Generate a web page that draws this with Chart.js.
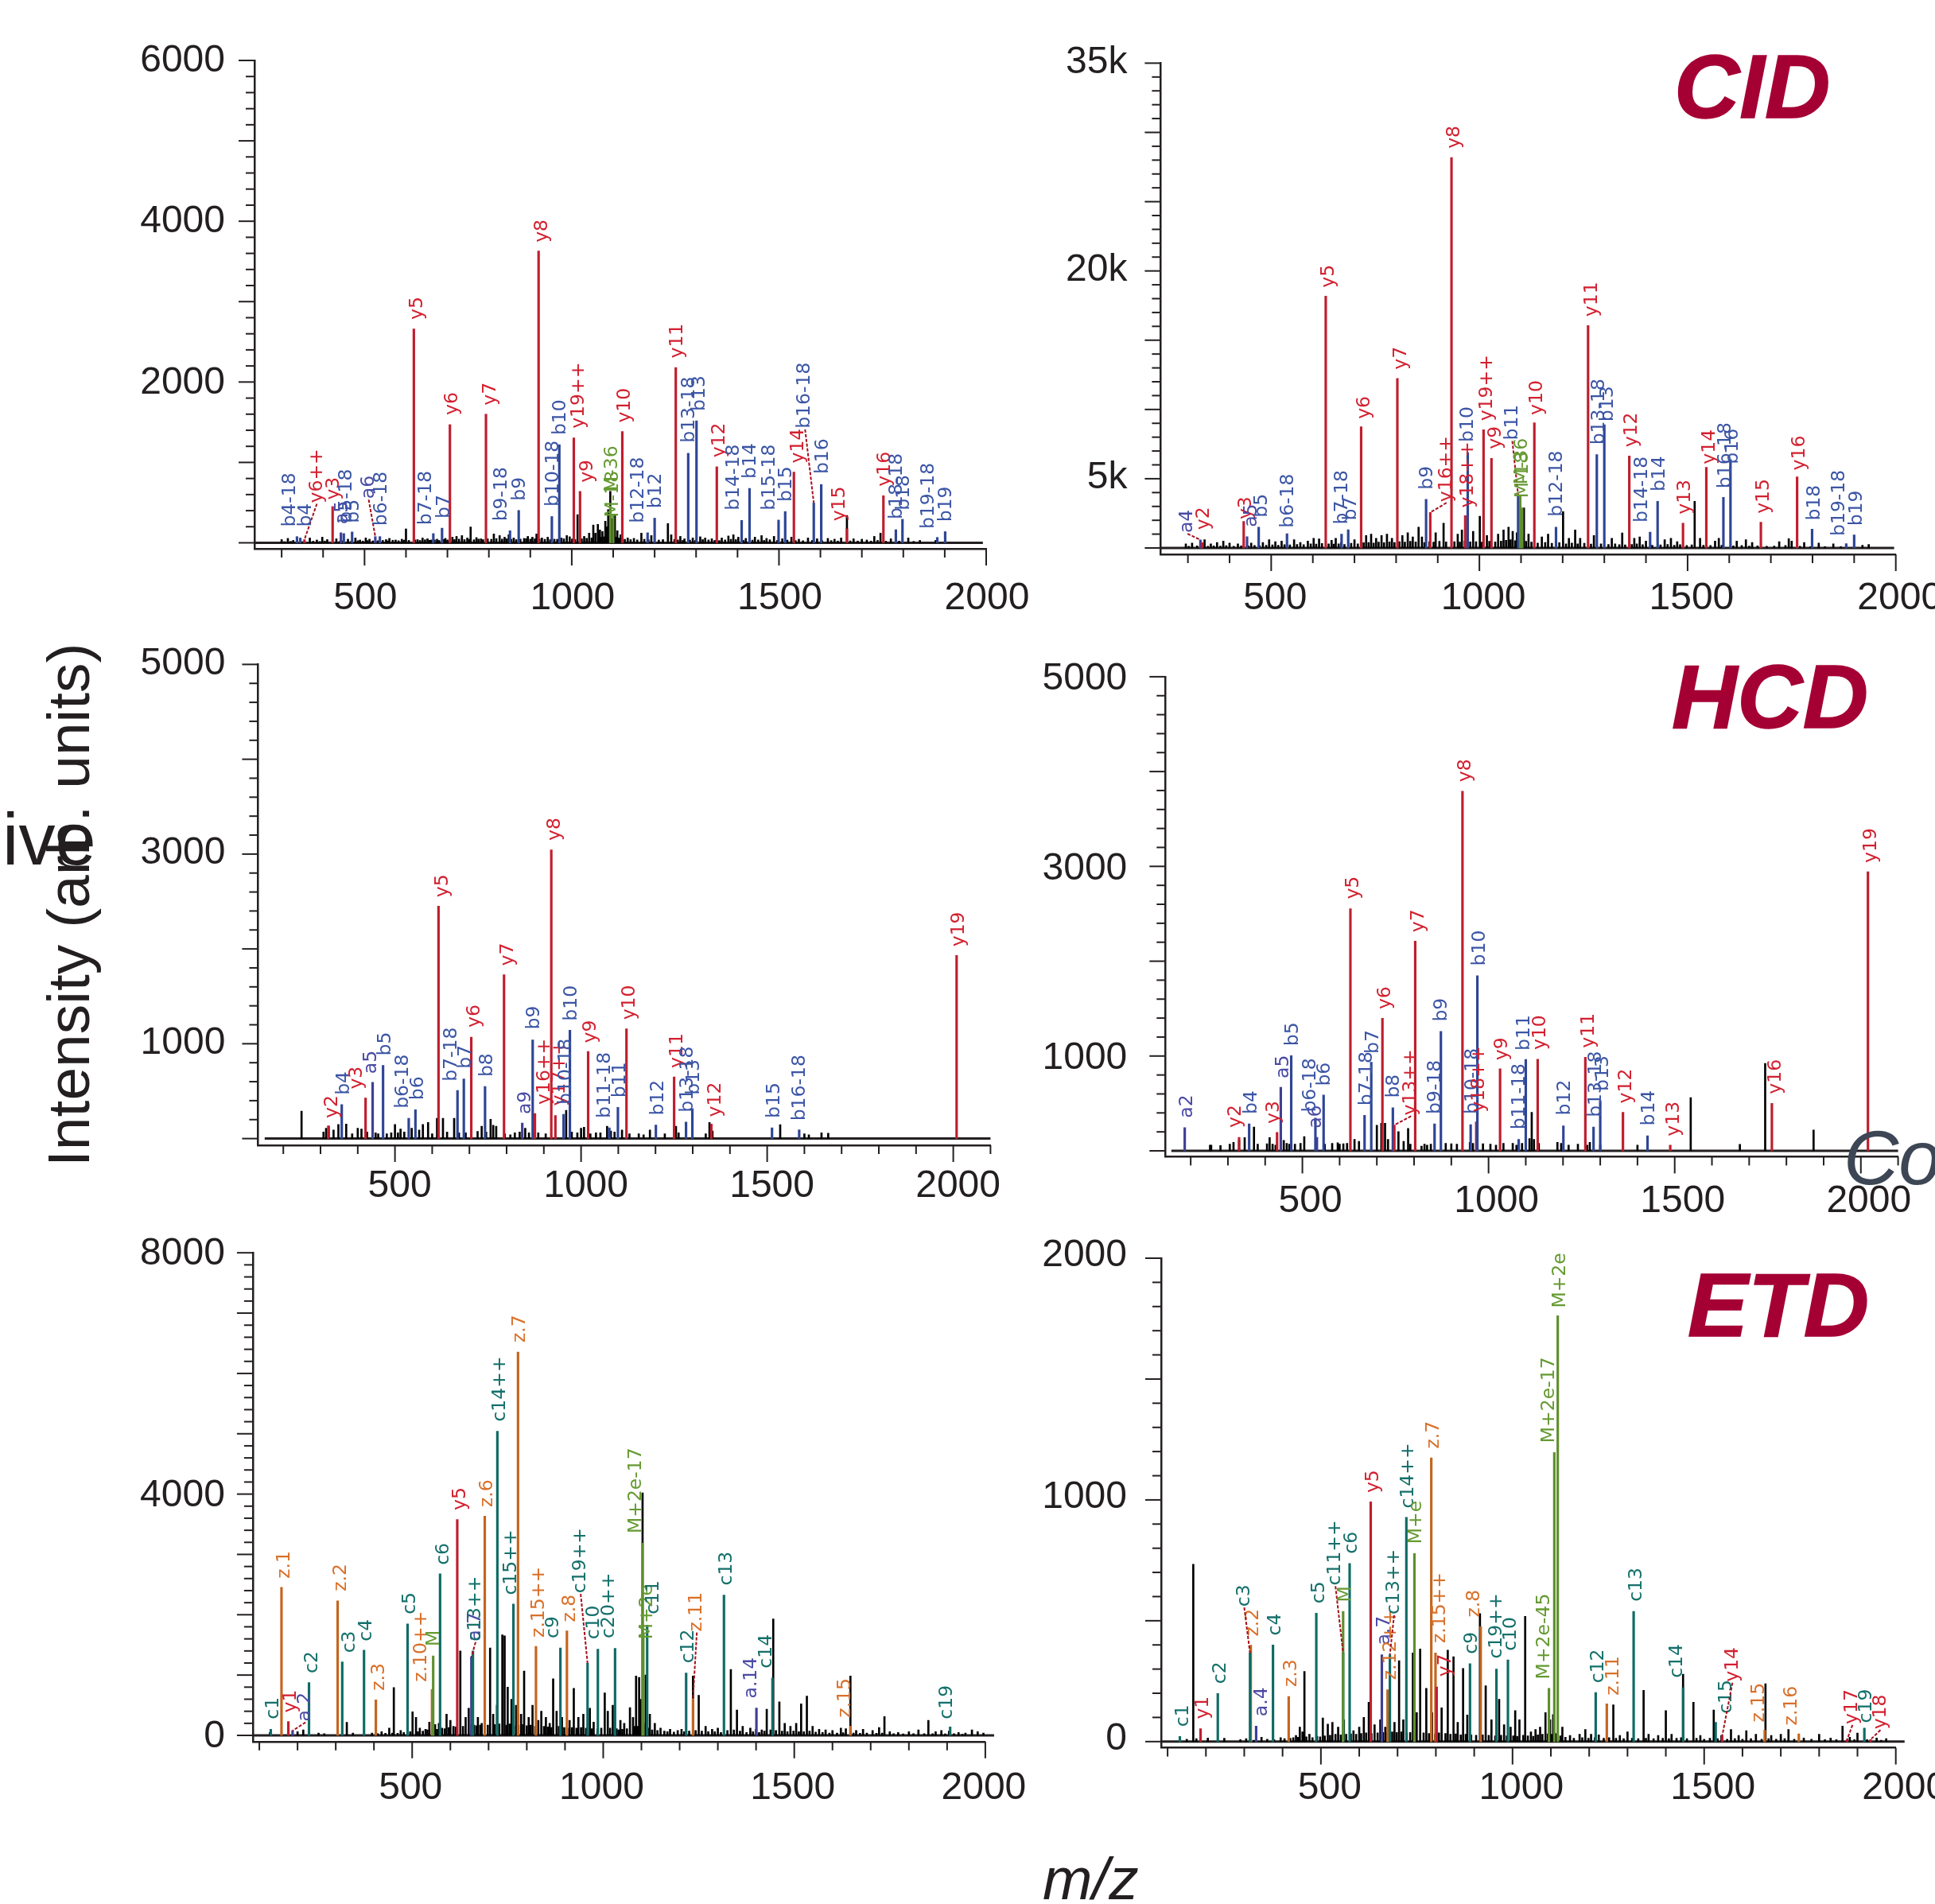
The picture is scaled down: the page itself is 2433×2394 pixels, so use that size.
<!DOCTYPE html>
<html>
<head>
<meta charset="utf-8">
<script src="https://cdn.jsdelivr.net/npm/chart.js@4"></script>
<style>
      html, body { margin: 0; padding: 0; background: #ffffff; }
      body { position: relative; width: 2433px; height: 2394px; overflow: hidden; }
      canvas { position: absolute; }
      .note { position: absolute; white-space: nowrap; line-height: 1; font-family: "Liberation Sans", sans-serif; color: #231f20; }
      .method { font-size: 114px; font-weight: bold; font-style: italic; color: #a50034; -webkit-text-stroke: 1.5px #a50034; }
</style>
</head>
<body>
<div class="note" style="left: 3px; top: 1009px; font-size: 92px;">ive</div>
<div class="note" style="left: 49px; top: 1467px; font-size: 75px; transform-origin: 0 0; transform: rotate(-90deg);">Intensity (arb. units)</div>
<div class="note" style="left: 1311px; top: 2325px; font-size: 75px; font-style: italic;">m/z</div>
<div class="note method" style="left: 2105px; top: 52px;">CID</div>
<div class="note method" style="left: 2102px; top: 819px;">HCD</div>
<div class="note method" style="left: 2122px; top: 1584px;">ETD</div>
<div id="charts"></div>
<div class="note" style="left: 2318px; top: 1408px; font-size: 96px; font-style: italic; color: #3d4654;">Co</div>
<script>
// m/z grid shared by every panel
const xHundreds = [100, 200, 300, 400, 500, 600, 700, 800, 900, 1000, 1100, 1200, 1300, 1400, 1500, 1600, 1700, 1800, 1900, 2000, 2100];
const xLabelled = [500, 1000, 1500, 2000];

// CID, left
const cid1YLabelValues = [2000, 4000, 6000];
const cid1YLabels = ['2000', '4000', '6000'];
const cid1Ions = ['y3','y5','y6','y6++','y7','y8','y9','y10','y11','y12','y14','y15','y16','y19++','b4-18','b4','a5','b5-18','b5','a6','b6-18','b7-18','b7','b9-18','b9','b10-18','b10','M-36','M-18','b12-18','b12','b13-18','b13','b14-18','b14','b15-18','b15','b16-18','b16','b18-18','b18','b19-18','b19'];
const cid1Mz = [423,619,706,355,793,920,1020,1122,1251,1350,1536,1664,1752,1005,337,345,443,450,470,526,537,666,687,851,872,952,970,1093,1100,1183,1200,1281,1301,1410,1429,1499,1515,1584,1602,1782,1798,1882,1901];
const cid1Int = [451,2660,1470,40,1600,3630,640,1383,2180,946,880,173,586,1306,77,60,125,115,135,77,77,115,182,150,403,327,1220,460,350,125,307,1114,1517,279,677,283,389,495,725,163,293,67,139];
const cid1LabelSpots = [[427,533],[627,2776],[713,1589],[385,495],[804,1710],[929,3736],[1039,749],[1129,1493],[1256,2295],[1356,1061],[1547,989],[1646,269],[1757,701],[1017,1421],[320,197],[359,197],[447,230],[457,245],[475,245],[510,547],[541,211],[648,221],[692,302],[832,269],[876,523],[956,451],[973,1340],[1097,629],[1099,317],[1162,245],[1204,427],[1284,1244],[1308,1638],[1391,403],[1432,797],[1478,403],[1519,509],[1563,1421],[1606,855],[1785,293],[1803,403],[1861,173],[1904,259]];
const cid1Other = [[300,40],[315,55],[328,30],[368,60],[385,35],[398,70],[410,40],[432,50],[460,45],[478,60],[489,35],[503,60],[512,45],[552,40],[560,55],[575,35],[590,45],[600,173],[628,40],[640,60],[652,50],[661,35],[675,45],[695,55],[712,70],[722,80],[735,90],[748,60],[756,197],[770,65],[781,50],[812,110],[826,90],[838,70],[848,100],[860,60],[885,55],[894,80],[905,70],[915,110],[928,60],[942,70],[958,45],[975,60],[988,90],[995,75],[1014,350],[1030,80],[1042,120],[1052,221],[1057,120],[1063,230],[1068,160],[1074,140],[1081,269],[1085,200],[1088,413],[1093,640],[1096,300],[1104,350],[1110,150],[1118,100],[1135,60],[1150,55],[1168,120],[1192,90],[1232,240],[1240,100],[1262,80],[1272,50],[1292,60],[1310,75],[1322,60],[1338,50],[1362,60],[1378,85],[1390,100],[1402,70],[1420,55],[1442,70],[1458,90],[1470,55],[1488,80],[1508,50],[1530,70],[1548,45],[1570,60],[1592,50],[1618,55],[1634,45],[1650,60],[1664,340],[1680,50],[1700,45],[1712,35],[1730,80],[1745,120],[1770,50],[1812,60],[1840,30],[1878,30]];
const cid1Fine = [[307,15],[322,18],[350,15],[376,20],[392,16],[404,22],[440,18],[448,24],[468,20],[484,26],[496,22],[507,28],[520,24],[532,26],[544,30],[556,24],[568,32],[582,26],[595,34],[607,30],[622,36],[634,30],[646,38],[657,32],[669,36],[680,30],[691,42],[700,36],[717,40],[728,46],[741,40],[753,44],[764,38],[775,46],[786,40],[797,50],[806,44],[818,52],[832,46],[843,50],[854,44],[866,40],[876,46],[890,52],[900,46],[911,50],[922,48],[935,44],[948,40],[965,44],[981,50],[1001,48],[1008,42],[1024,50],[1036,56],[1048,60],[1071,70],[1078,75],[1101,80],[1107,70],[1114,60],[1128,44],[1142,40],[1158,36],[1175,44],[1185,38],[1210,34],[1220,40],[1248,42],[1256,36],[1268,30],[1285,34],[1298,30],[1316,40],[1330,36],[1345,30],[1356,28],[1370,36],[1384,44],[1396,40],[1414,30],[1436,34],[1450,36],[1464,30],[1478,38],[1496,30],[1520,34],[1540,28],[1558,26],[1580,30],[1604,26],[1626,28],[1642,22],[1672,24],[1690,22],[1722,22],[1738,30],[1758,20],[1790,22],[1825,18]];

// CID, right
const cid2YLabelValues = [5000, 20000, 35000];
const cid2YLabels = ['5k', '20k', '35k'];
const cid2Ions = ['a4','y2','y3','a5','b5','b6-18','y5','b7-18','b7','y6','y7','b9','y16++','y8','y18++','b10','y19++','y9','b11','M-36','M-18','y10','b12-18','y11','b13-18','b13','y12','b14-18','b14','y13','y14','b16-18','b16','y15','y16','b18','b19-18','b19'];
const cid2Mz = [330,334,434,442,470,538,631,669,685,716,803,872,882,933,966,972,1010,1029,1093,1098,1103,1132,1184,1261,1282,1300,1360,1410,1428,1489,1545,1586,1603,1676,1763,1799,1881,1900];
const cid2Int = [585,390,1924,808,1505,1031,18178,1004,1310,8754,12240,3513,2565,28187,2342,6886,8531,6468,3820,3820,2900,9033,1505,16059,6747,8894,6635,1143,3373,1784,5827,3652,6384,1868,5130,1366,307,948];
const cid2LabelSpots = [[299,1087],[338,1310],[440,2063],[454,1505],[478,2200],[542,1450],[639,18790],[671,1700],[692,1980],[725,9310],[812,12880],[875,4210],[921,3318],[941,28830],[973,2900],[973,7640],[1018,9170],[1039,7137],[1079,7779],[1103,4572],[1105,3596],[1139,9590],[1187,2258],[1271,16700],[1287,7444],[1308,9117],[1367,7277],[1392,1840],[1434,4070],[1494,2425],[1553,6050],[1591,4293],[1608,6050],[1683,2481],[1770,5604],[1805,1980],[1865,864],[1907,1589]];
const cid2Other = [[295,300],[310,350],[340,600],[355,300],[370,400],[385,500],[400,350],[420,300],[452,350],[480,400],[495,600],[510,450],[525,500],[555,600],[570,400],[588,500],[602,700],[615,650],[645,550],[655,700],[668,400],[700,600],[728,900],[740,1000],[752,700],[765,900],[778,1000],[790,700],[815,900],[828,1100],[840,800],[854,1505],[862,800],[895,1100],[914,1784],[948,1000],[958,1300],[985,1200],[1001,2286],[1018,900],[1045,1000],[1058,1300],[1070,1500],[1080,1200],[1090,1100],[1107,2900],[1118,1000],[1150,800],[1165,1000],[1201,2620],[1215,700],[1230,1300],[1242,700],[1275,900],[1318,700],[1343,1087],[1372,700],[1385,800],[1400,500],[1445,600],[1460,700],[1475,450],[1517,3373],[1530,700],[1566,500],[1575,700],[1618,500],[1640,600],[1655,400],[1720,450],[1743,669],[1750,500],[1780,400],[1815,350],[1850,300],[1920,200],[1935,250]];
const cid2Fine = [[302,120],[322,150],[348,130],[362,160],[378,140],[392,170],[410,130],[428,160],[445,150],[460,180],[472,170],[488,200],[503,220],[517,200],[532,240],[545,220],[562,260],[578,240],[595,300],[608,280],[622,320],[638,300],[650,280],[662,300],[676,260],[692,340],[708,300],[722,380],[734,400],[746,360],[758,420],[771,380],[784,440],[796,400],[808,460],[821,420],[834,480],[847,440],[868,400],[880,460],[890,420],[904,480],[920,440],[940,460],[953,420],[965,500],[978,440],[992,460],[1006,420],[1024,480],[1038,440],[1052,500],[1064,560],[1075,600],[1086,520],[1112,480],[1125,420],[1140,360],[1158,400],[1174,340],[1192,380],[1208,300],[1222,360],[1236,300],[1252,340],[1268,280],[1292,300],[1310,260],[1326,300],[1336,240],[1350,220],[1366,260],[1378,300],[1392,240],[1415,200],[1435,220],[1452,260],[1468,200],[1482,240],[1498,180],[1510,220],[1538,200],[1555,180],[1582,200],[1610,160],[1630,180],[1648,140],[1668,160],[1690,120],[1708,140],[1735,180],[1770,120],[1795,100],[1830,100],[1868,90]];

// HCD, left
const hcd1YLabelValues = [1000, 3000, 5000];
const hcd1YLabels = ['1000', '3000', '5000'];
const hcd1Ions = ['y2','b4','y3','a5','b5','b6-18','b6','y5','b7-18','b7','y6','b8','y7','a9','b9','y16++','y8','y17++','b10-18','b10','y9','b11-18','b11','y10','b12','y11','b13-18','b13','y12','b15','b16-18','y19'];
const hcd1Mz = [321,357,421,440,468,537,555,617,668,685,705,742,793,842,870,876,920,931,953,970,1019,1076,1099,1122,1201,1250,1282,1299,1350,1513,1586,2009];
const hcd1Int = [134,358,427,593,772,215,305,2451,508,630,1069,549,1728,163,1041,264,3045,244,256,1142,919,114,329,1158,142,650,175,317,154,114,93,1931];
const hcd1LabelSpots = [[332,215],[363,459],[398,520],[437,683],[474,874],[522,317],[562,406],[629,2545],[652,602],[691,736],[714,1171],[748,650],[803,1821],[850,256],[874,1150],[902,358],[930,3142],[942,345],[960,358],[976,1240],[1026,1008],[1064,215],[1105,431],[1130,1252],[1207,244],[1259,744],[1287,276],[1304,459],[1361,228],[1519,215],[1589,187],[2015,2024]];
const hcd1Other = [[249,289],[308,70],[315,110],[322,130],[335,90],[348,150],[369,154],[385,50],[400,110],[410,100],[425,70],[448,60],[455,50],[478,50],[490,60],[500,150],[508,60],[515,100],[525,70],[545,110],[565,90],[575,150],[589,170],[600,50],[613,215],[629,215],[640,70],[659,215],[672,60],[690,60],[722,75],[733,130],[745,70],[757,203],[764,140],[772,130],[795,50],[810,40],[822,60],[835,70],[850,110],[860,60],[885,60],[905,50],[960,297],[975,70],[990,60],[1000,110],[1008,120],[1025,50],[1040,60],[1052,60],[1070,130],[1080,80],[1090,70],[1110,90],[1130,50],[1155,50],[1168,40],[1185,90],[1225,50],[1255,130],[1262,60],[1335,50],[1345,170],[1353,80],[1535,146],[1600,50],[1612,40],[1646,61],[1664,57]];
const hcd1Fine = [];

// HCD, right
const hcd2YLabelValues = [1000, 3000, 5000];
const hcd2YLabels = ['1000', '3000', '5000'];
const hcd2Ions = ['a2','y2','b4','y3','a5','b5','a6','b6-18','b6','y5','b7-18','b7','y6','b8','y13++','y7','b9-18','b9','y8','b10-18','y18++','b10','y9','b11-18','b11','y10','b12','y11','b13-18','b13','y12','b14','y13','y16','y19'];
const hcd2Mz = [184,330,357,432,442,470,539,535,557,629,667,685,715,743,747,803,855,872,930,952,967,970,1031,1081,1100,1132,1201,1260,1282,1300,1361,1427,1488,1761,2019];
const hcd2Int = [244,142,285,195,671,1004,142,346,589,2553,374,935,1398,455,272,2211,285,1260,3793,276,305,1846,866,122,963,967,264,988,252,528,406,159,61,500,2943];
const hcd2LabelSpots = [[192,346],[322,244],[363,386],[423,285],[450,764],[475,1106],[538,236],[522,406],[561,683],[638,2654],[673,476],[690,1024],[723,1492],[747,557],[792,374],[813,2305],[857,386],[874,1362],[939,3890],[957,386],[974,406],[976,1951],[1037,955],[1084,224],[1097,1057],[1139,1065],[1205,374],[1269,1085],[1289,354],[1308,630],[1370,500],[1432,264],[1499,154],[1771,598],[2029,3037]];
const hcd2Other = [[252,60],[255,60],[280,55],[305,70],[315,90],[330,110],[345,140],[370,252],[380,70],[405,75],[412,140],[420,70],[428,60],[450,110],[458,80],[465,70],[480,70],[495,80],[505,150],[560,70],[580,80],[595,85],[600,70],[610,75],[620,80],[640,120],[652,100],[700,270],[712,290],[722,290],[730,120],[758,203],[772,100],[784,236],[790,70],[820,50],[828,70],[835,60],[845,70],[885,80],[900,75],[915,70],[950,90],[958,80],[985,75],[1005,70],[1020,60],[1040,80],[1065,80],[1075,60],[1090,80],[1100,100],[1110,130],[1116,406],[1122,120],[1135,80],[1185,90],[1195,80],[1215,60],[1240,70],[1265,60],[1272,90],[1300,60],[1400,60],[1543,561],[1675,69],[1743,923],[1873,220]];
const hcd2Fine = [];

// ETD, left
const etd1YLabelValues = [0, 4000, 8000];
const etd1YLabels = ['0', '4000', '8000'];
const etd1Ions = ['c1','z.1','y1','a.2','c2','z.2','c3','c4','z.3','c5','z.10++','M','c6','y5','a.7','c13++','z.6','c14++','c15++','z.7','z.15++','c9','z.8','c19++','c10','c20++','M+2e-17','M+2e','c11','c12','z.11','c13','a.14','c14','z.15','c19'];
const etd1Mz = [130,158,176,187,230,305,317,374,405,488,552,555,573,618,655,659,690,723,765,777,824,888,905,959,986,1031,1103,1105,1115,1217,1235,1316,1401,1443,1647,1908];
const etd1Int = [102,2454,230,77,875,2230,1220,1412,588,1847,760,1316,2677,3578,1300,1400,3636,5042,2179,6352,1476,1450,1732,1195,1431,1444,3189,1700,1828,1035,613,2326,454,952,153,140];
const etd1LabelSpots = [[138,268],[166,2600],[182,377],[221,230],[239,1029],[314,2390],[337,1367],[380,1559],[413,741],[496,2006],[524,888],[558,1476],[582,2824],[627,3732],[666,1559],[666,1559],[698,3783],[730,5200],[760,2326],[783,6512],[833,1623],[870,1610],[914,1879],[941,2358],[975,1591],[1016,1610],[1086,3348],[1116,1591],[1131,2006],[1223,1195],[1245,1719],[1323,2485],[1388,613],[1428,1112],[1634,294],[1901,268]];
const etd1Other = [[128,50],[200,60],[215,90],[255,40],[270,30],[329,217],[345,40],[395,40],[420,60],[440,120],[452,792],[470,80],[488,100],[501,390],[510,300],[520,120],[535,100],[545,220],[560,180],[570,200],[590,350],[600,250],[626,1400],[640,300],[648,450],[672,300],[682,200],[704,1450],[712,350],[722,500],[736,1668],[742,1650],[750,800],[760,600],[772,500],[785,350],[793,1067],[805,300],[815,500],[830,250],[838,400],[850,300],[860,200],[869,939],[878,400],[892,300],[912,250],[923,780],[935,300],[948,350],[965,450],[975,220],[1004,703],[1012,400],[1025,500],[1045,250],[1055,200],[1070,460],[1078,300],[1086,984],[1094,960],[1098,600],[1103,4020],[1111,1000],[1122,350],[1135,200],[1150,120],[1175,100],[1195,80],[1205,100],[1235,984],[1250,665],[1268,150],[1285,100],[1300,120],[1334,1093],[1350,422],[1365,150],[1385,120],[1400,100],[1415,90],[1428,434],[1445,1930],[1461,556],[1475,200],[1490,150],[1505,200],[1518,524],[1533,652],[1548,150],[1565,100],[1582,90],[1600,80],[1622,120],[1635,110],[1647,984],[1662,80],[1680,100],[1705,80],[1722,130],[1736,313],[1750,60],[1772,50],[1800,60],[1825,90],[1851,249],[1870,60],[1885,80],[1905,70],[1930,50],[1948,40],[1965,90],[1980,60],[1995,40]];
const etd1Fine = [[410,30],[430,35],[448,40],[462,35],[478,50],[495,60],[515,60],[528,70],[540,90],[552,90],[565,100],[578,120],[585,110],[596,130],[608,150],[614,140],[633,150],[655,180],[662,170],[668,160],[678,170],[690,180],[698,170],[716,180],[728,190],[747,170],[755,190],[766,160],[778,170],[790,180],[800,160],[810,170],[822,150],[845,150],[855,140],[864,130],[884,150],[898,130],[906,120],[918,130],[930,120],[942,130],[955,120],[970,110],[985,110],[995,120],[1018,120],[1035,110],[1040,90],[1050,100],[1062,110],[1082,150],[1090,150],[1106,200],[1118,120],[1128,90],[1142,80],[1160,70],[1168,60],[1185,55],[1212,60],[1225,70],[1242,80],[1258,70],[1275,60],[1292,60],[1308,50],[1325,80],[1342,90],[1358,70],[1375,50],[1392,60],[1408,50],[1422,70],[1438,90],[1452,80],[1468,70],[1482,60],[1498,70],[1512,60],[1525,60],[1540,70],[1556,55],[1574,50],[1592,40],[1612,40],[1628,45],[1655,40],[1672,35],[1690,40],[1715,35],[1730,40],[1760,30],[1785,25],[1812,30],[1840,30],[1862,30],[1895,25],[1918,30],[1940,20]];

// ETD, right
const etd2YLabelValues = [0, 1000, 2000];
const etd2YLabels = ['0', '1000', '2000'];
const etd2Ions = ['c1','y1','c2','z.2','c3','a.4','c4','z.3','c5','c11++','M','c6','y5','a.7','z.12++','c13++','c14++','M+e','z.7','z.15++','y7','c9','z.8','c19++','c10','M+2e-45','M+2e-17','M+2e','c12','z.11','c13','c14','c15','y14','z.15','z.16','y17','c19','y18'];
const etd2Mz = [132,186,231,317,315,331,375,416,488,558,558,575,630,659,674,680,723,744,788,799,802,889,917,958,988,1095,1109,1118,1217,1246,1316,1445,1530,1547,1658,1747,1873,1918,1934];
const etd2Int = [21,53,199,399,367,64,400,187,531,367,539,737,992,359,215,359,928,778,1174,367,226,322,475,300,338,220,1196,1762,203,156,539,223,80,24,48,32,8,56,8];
const etd2LabelSpots = [[141,61],[193,93],[239,239],[323,435],[300,558],[346,104],[382,439],[424,226],[495,571],[538,646],[564,577],[581,777],[637,1029],[666,399],[682,255],[691,526],[729,965],[750,818],[794,1212],[811,407],[825,268],[895,362],[901,514],[958,343],[996,375],[1083,258],[1095,1236],[1124,1794],[1225,242],[1263,191],[1324,579],[1429,263],[1559,115],[1574,247],[1643,80],[1728,67],[1887,72],[1923,77],[1960,51]];
const etd2Other = [[150,10],[167,734],[175,12],[205,15],[248,14],[290,8],[305,12],[345,18],[395,16],[435,25],[445,60],[452,40],[457,290],[470,30],[505,98],[518,72],[530,80],[545,60],[560,90],[585,45],[600,60],[612,100],[625,163],[640,70],[655,90],[668,60],[680,120],[692,80],[704,335],[715,90],[740,367],[750,120],[759,383],[775,220],[790,120],[815,140],[831,378],[846,351],[857,80],[871,303],[882,110],[915,530],[930,231],[945,90],[965,175],[978,70],[995,60],[1007,128],[1018,90],[1033,518],[1048,40],[1060,50],[1072,60],[1086,120],[1098,90],[1106,112],[1130,60],[1150,25],[1175,30],[1190,50],[1205,30],[1225,28],[1263,152],[1280,25],[1300,40],[1342,212],[1355,30],[1380,25],[1400,128],[1415,30],[1445,279],[1472,163],[1490,25],[1525,131],[1545,25],[1570,50],[1590,25],[1610,45],[1635,30],[1660,239],[1675,25],[1700,30],[1720,50],[1760,15],[1800,30],[1830,15],[1861,64],[1880,18],[1900,35],[1950,15],[1975,12]];
const etd2Fine = [[315,8],[325,6],[360,10],[378,8],[405,12],[420,14],[428,16],[440,18],[462,20],[478,16],[490,22],[498,20],[510,24],[524,26],[538,30],[552,28],[566,30],[578,32],[592,30],[605,34],[618,36],[632,34],[648,36],[662,38],[672,36],[686,40],[698,38],[710,40],[724,36],[733,38],[745,34],[768,36],[782,34],[798,32],[808,36],[825,34],[838,30],[852,32],[865,28],[878,30],[892,28],[905,26],[922,28],[938,26],[955,24],[970,26],[985,24],[1002,24],[1012,22],[1028,26],[1040,24],[1054,22],[1066,28],[1078,30],[1092,32],[1102,30],[1112,34],[1125,24],[1138,18],[1160,14],[1182,16],[1198,14],[1215,16],[1238,14],[1252,16],[1270,14],[1290,12],[1312,14],[1328,12],[1348,14],[1368,12],[1392,14],[1408,12],[1428,14],[1440,16],[1455,12],[1480,14],[1500,10],[1515,14],[1535,12],[1560,10],[1580,12],[1600,10],[1622,12],[1650,10],[1668,12],[1688,10],[1710,12],[1735,10],[1780,10],[1815,8],[1845,8],[1892,8],[1925,8],[1962,6]];

const peakColours = { y: '#bf1e2e', b: '#2e4596', a: '#3f3f95', M: '#5f8f2d', c: '#0f6b66', z: '#c4651f' };
const textColours = { y: '#d2202f', b: '#3b55a5', a: '#4a4aa5', M: '#659a32', c: '#14706b', z: '#d9702a' };
const inkColour = '#231f20';
const leaderColour = '#a50f1c';

function ionKey(ion)
{
      return ion.charAt(0);
}

function noPadding(s)
{
      s.paddingLeft = 0;
      s.paddingRight = 0;
      s.paddingTop = 0;
      s.paddingBottom = 0;
}

function drawSpectrum(panel)
{
      const canvas = document.createElement('canvas');
      canvas.width = panel.box[2];
      canvas.height = panel.box[3];
      canvas.style.left = panel.box[0] + 'px';
      canvas.style.top = panel.box[1] + 'px';
      document.getElementById('charts').appendChild(canvas);

      const xTicks = xHundreds.filter(function (v) { return v >= panel.xMin && v <= panel.xMax; });
      const yTicks = [];
      for (let v = 0; v <= panel.yMax; v += panel.yStep)
      {
            yTicks.push(v);
      }
      // the x axis hangs a little under the zero line, so the y scale starts below zero
      const yMin = -panel.yMax * (panel.axisY - panel.zeroY) / (panel.zeroY - panel.topY);

      const frame = {
            id: 'frame',
            beforeDatasetsDraw: function (chart)
            {
                  const ctx = chart.ctx;
                  const xs = chart.scales.x;
                  const ys = chart.scales.y;
                  ctx.save();
                  ctx.strokeStyle = inkColour;
                  ctx.lineWidth = 2;
                  xTicks.forEach(function (v)
                  {
                        const len = xLabelled.includes(v) ? 21 : 11;
                        const px = xs.getPixelForValue(v);
                        ctx.beginPath();
                        ctx.moveTo(px, xs.top);
                        ctx.lineTo(px, xs.top + len);
                        ctx.stroke();
                  });
                  yTicks.forEach(function (v)
                  {
                        const len = (v % panel.yLong === 0) ? 20 : 11;
                        const py = ys.getPixelForValue(v);
                        ctx.beginPath();
                        ctx.moveTo(ys.right, py);
                        ctx.lineTo(ys.right - len, py);
                        ctx.stroke();
                  });
                  ctx.beginPath();
                  ctx.moveTo(xs.getPixelForValue(panel.baseFrom), ys.getPixelForValue(0));
                  ctx.lineTo(xs.getPixelForValue(panel.baseTo), ys.getPixelForValue(0));
                  ctx.lineWidth = 3;
                  ctx.stroke();
                  ctx.restore();
            },
            afterDatasetsDraw: function (chart)
            {
                  const ctx = chart.ctx;
                  const xs = chart.scales.x;
                  const ys = chart.scales.y;
                  ctx.save();
                  panel.ions.forEach(function (ion, i)
                  {
                        const lx = xs.getPixelForValue(panel.labelSpots[i][0]);
                        const ly = ys.getPixelForValue(panel.labelSpots[i][1]);
                        const px = xs.getPixelForValue(panel.mz[i]);
                        const py = ys.getPixelForValue(panel.intensity[i]);
                        if (Math.hypot(lx - px, ly - py) > 18)
                        {
                              ctx.beginPath();
                              ctx.moveTo(lx, ly + 1);
                              ctx.lineTo(px, py);
                              ctx.setLineDash([4, 2]);
                              ctx.lineWidth = 2;
                              ctx.strokeStyle = leaderColour;
                              ctx.stroke();
                              ctx.setLineDash([]);
                        }
                        ctx.save();
                        ctx.translate(lx, ly);
                        ctx.rotate(-Math.PI / 2);
                        ctx.font = '23.5px "DejaVu Sans"';
                        ctx.textAlign = 'left';
                        ctx.textBaseline = 'middle';
                        ctx.fillStyle = textColours[ionKey(ion)];
                        ctx.fillText(ion, 0, 0);
                        ctx.restore();
                  });
                  ctx.restore();
            }
      };

      new Chart(canvas, {
            type: 'bar',
            data: {
                  datasets: [
                        {
                              label: 'Unassigned',
                              data: panel.other.concat(panel.fine).map(function (p) { return { x: p[0], y: p[1] }; }),
                              backgroundColor: '#000000',
                              barThickness: 2,
                              grouped: false,
                              order: 2
                        },
                        {
                              label: 'Assigned',
                              data: panel.mz.map(function (m, i) { return { x: m, y: panel.intensity[i] }; }),
                              backgroundColor: panel.ions.map(function (ion) { return peakColours[ionKey(ion)]; }),
                              barThickness: 2.5,
                              grouped: false,
                              order: 1
                        }
                  ]
            },
            options: {
                  responsive: false,
                  animation: false,
                  events: [],
                  layout: {
                        autoPadding: false,
                        padding: { left: 0, bottom: 0, top: panel.topY - panel.box[1], right: panel.box[2] - panel.rightX + panel.box[0] }
                  },
                  plugins: { legend: { display: false }, tooltip: { enabled: false } },
                  scales: {
                        x: {
                              type: 'linear',
                              offset: false,
                              min: panel.xMin,
                              max: panel.xMax,
                              afterBuildTicks: function (s) { s.ticks = xTicks.map(function (v) { return { value: v }; }); },
                              afterFit: function (s) { s.height = panel.box[1] + panel.box[3] - panel.axisY; noPadding(s); },
                              grid: { display: false, offset: false },
                              border: { display: true, color: inkColour, width: 2.5 },
                              ticks: {
                                    autoSkip: false,
                                    maxRotation: 0,
                                    minRotation: 0,
                                    padding: panel.xPad,
                                    labelOffset: panel.xShift,
                                    color: inkColour,
                                    font: { family: '"Liberation Sans"', size: 48 },
                                    callback: function (v) { return xLabelled.includes(v) ? String(v) : ''; }
                              }
                        },
                        y: {
                              type: 'linear',
                              min: yMin,
                              max: panel.yMax,
                              afterBuildTicks: function (s) { s.ticks = yTicks.map(function (v) { return { value: v }; }); },
                              afterFit: function (s) { s.width = panel.axisX - panel.box[0]; noPadding(s); },
                              grid: { display: false },
                              border: { display: true, color: inkColour, width: 2.5 },
                              ticks: {
                                    autoSkip: false,
                                    padding: panel.yPad,
                                    labelOffset: panel.yShift,
                                    color: inkColour,
                                    font: { family: '"Liberation Sans"', size: 48 },
                                    callback: function (v)
                                    {
                                          const at = panel.yLabelValues.indexOf(v);
                                          return at < 0 ? '' : panel.yLabels[at];
                                    }
                              }
                        }
                  }
            },
            plugins: [frame]
      });
}

drawSpectrum({
      box: [0, 40, 1300, 740], axisX: 320, topY: 76, zeroY: 682.5, axisY: 690, rightX: 1240,
      xMin: 234.5, xMax: 2000, yMax: 6000, yStep: 200, yLong: 1000, baseFrom: 234.5, baseTo: 1992,
      xPad: 26, yPad: 29, xShift: 1, yShift: 1,
      ions: cid1Ions, mz: cid1Mz, intensity: cid1Int, labelSpots: cid1LabelSpots, other: cid1Other, fine: cid1Fine,
      yLabelValues: cid1YLabelValues, yLabels: cid1YLabels
});
drawSpectrum({
      box: [1300, 40, 1133, 740], axisX: 1459.4, topY: 79.4, zeroY: 689, axisY: 697, rightX: 2383.7,
      xMin: 234.6, xMax: 2000, yMax: 35000, yStep: 1000, yLong: 5000, baseFrom: 234.6, baseTo: 1996,
      xPad: 19, yPad: 34, xShift: 5, yShift: -1,
      ions: cid2Ions, mz: cid2Mz, intensity: cid2Int, labelSpots: cid2LabelSpots, other: cid2Other, fine: cid2Fine,
      yLabelValues: cid2YLabelValues, yLabels: cid2YLabels
});
drawSpectrum({
      box: [0, 800, 1300, 740], axisX: 324.4, topY: 835.4, zeroY: 1431.6, axisY: 1440, rightX: 1245.4,
      xMin: 132, xMax: 2100, yMax: 5000, yStep: 200, yLong: 1000, baseFrom: 150, baseTo: 2100,
      xPad: 15, yPad: 33, xShift: 6, yShift: -1,
      ions: hcd1Ions, mz: hcd1Mz, intensity: hcd1Int, labelSpots: hcd1LabelSpots, other: hcd1Other, fine: hcd1Fine,
      yLabelValues: hcd1YLabelValues, yLabels: hcd1YLabels
});
drawSpectrum({
      box: [1300, 810, 1133, 740], axisX: 1465.3, topY: 850.9, zeroY: 1447, axisY: 1454.4, rightX: 2386.6,
      xMin: 132, xMax: 2100, yMax: 5000, yStep: 200, yLong: 1000, baseFrom: 148, baseTo: 2100,
      xPad: 20, yPad: 40, xShift: 10, yShift: 3,
      ions: hcd2Ions, mz: hcd2Mz, intensity: hcd2Int, labelSpots: hcd2LabelSpots, other: hcd2Other, fine: hcd2Fine,
      yLabelValues: hcd2YLabelValues, yLabels: hcd2YLabels
});
drawSpectrum({
      box: [0, 1545, 1300, 740], axisX: 317.9, topY: 1575.2, zeroY: 2182, axisY: 2189.8, rightX: 1238.9,
      xMin: 83, xMax: 2000, yMax: 8000, yStep: 200, yLong: 1000, baseFrom: 83, baseTo: 2023,
      xPad: 22, yPad: 27, xShift: -2, yShift: 2,
      ions: etd1Ions, mz: etd1Mz, intensity: etd1Int, labelSpots: etd1LabelSpots, other: etd1Other, fine: etd1Fine,
      yLabelValues: etd1YLabelValues, yLabels: etd1YLabels
});
drawSpectrum({
      box: [1300, 1545, 1133, 740], axisX: 1460, topY: 1582, zeroY: 2189.8, axisY: 2197.6, rightX: 2383.7,
      xMin: 83.2, xMax: 2000, yMax: 2000, yStep: 100, yLong: 500, baseFrom: 83.2, baseTo: 2023,
      xPad: 14, yPad: 35, xShift: 11, yShift: -3,
      ions: etd2Ions, mz: etd2Mz, intensity: etd2Int, labelSpots: etd2LabelSpots, other: etd2Other, fine: etd2Fine,
      yLabelValues: etd2YLabelValues, yLabels: etd2YLabels
});
</script>
</body>
</html>
